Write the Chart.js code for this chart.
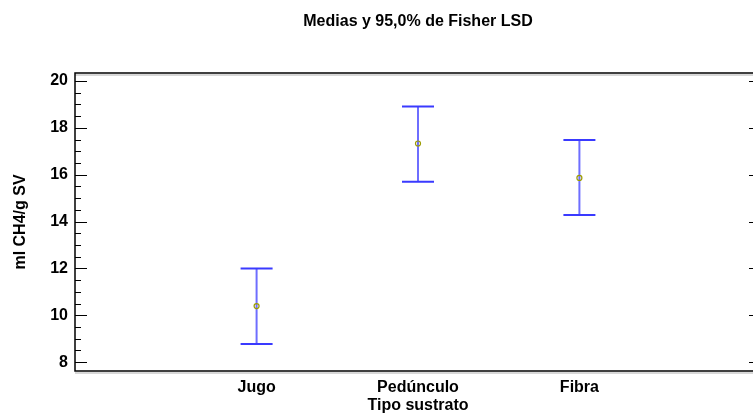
<!DOCTYPE html>
<html>
<head>
<meta charset="utf-8">
<script src="https://cdn.jsdelivr.net/npm/chart.js@4.4.0/dist/chart.umd.min.js"></script>
<style>
  body { margin: 0; background: #fff; }
  #wrap { width: 753px; height: 415px; overflow: hidden; }
</style>
</head>
<body>
<div id="wrap"><canvas id="lsd" width="837" height="415"></canvas></div>
<script>
const chartTitle = 'Medias y 95,0% de Fisher LSD'
const categories = ['Jugo', 'Pedúnculo', 'Fibra']
const means = [10.39, 17.33, 15.86]
const lower = [8.77, 15.70, 14.28]
const upper = [11.99, 18.91, 17.48]
const yTicks = [8, 10, 12, 14, 16, 18, 20]
const yMinorStep = 0.5

const font = { family: "'Liberation Sans', Arial, sans-serif", size: 16, weight: 'bold' }

// intervals drawn under the mean markers
const errorBars = {
  id: 'errorBars',
  beforeDatasetsDraw(chart) {
    const ctx = chart.ctx
    const x = chart.scales.x
    const y = chart.scales.y
    ctx.save()
    categories.forEach((c, i) => {
      const px = x.getPixelForValue(i + 1)
      const lo = y.getPixelForValue(lower[i])
      const hi = y.getPixelForValue(upper[i])
      ctx.strokeStyle = 'rgba(110,110,255,1)'
      ctx.lineWidth = 2
      ctx.beginPath()
      ctx.moveTo(px, hi)
      ctx.lineTo(px, lo)
      ctx.stroke()
      ctx.strokeStyle = '#3a3aff'
      ctx.beginPath()
      ctx.moveTo(px - 16, hi)
      ctx.lineTo(px + 16, hi)
      ctx.moveTo(px - 16, lo)
      ctx.lineTo(px + 16, lo)
      ctx.stroke()
    })
    ctx.restore()
  }
}

// box, inward ticks and a title centred over the plot box
const frame = {
  id: 'frame',
  afterDraw(chart) {
    const ctx = chart.ctx
    const a = chart.chartArea
    const y = chart.scales.y
    ctx.save()
    ctx.strokeStyle = '#b0b0b0'
    ctx.lineWidth = 1
    ctx.beginPath()
    ctx.moveTo(a.left, a.top + 2)
    ctx.lineTo(a.right, a.top + 2)
    ctx.moveTo(a.left, a.bottom + 2)
    ctx.lineTo(a.right, a.bottom + 2)
    ctx.stroke()
    ctx.strokeStyle = '#000'
    ctx.lineWidth = 1.5
    ctx.strokeRect(a.left, a.top, a.right - a.left, a.bottom - a.top)
    ctx.lineWidth = 1.2
    ctx.beginPath()
    for (let v = yTicks[0]; v <= yTicks[yTicks.length - 1]; v += yMinorStep) {
      const py = Math.round(y.getPixelForValue(v)) + 0.5
      const major = yTicks.includes(v)
      ctx.moveTo(a.left, py)
      ctx.lineTo(a.left + (major ? 12 : 6), py)
      if (major) {
        ctx.moveTo(a.right, py)
        ctx.lineTo(a.right - 12, py)
      }
    }
    ctx.stroke()
    ctx.fillStyle = '#000'
    ctx.font = "bold 16px 'Liberation Sans', Arial, sans-serif"
    ctx.textAlign = 'center'
    ctx.textBaseline = 'middle'
    ctx.fillText(chartTitle, (a.left + a.right) / 2, 22)
    ctx.restore()
  }
}

new Chart(document.getElementById('lsd'), {
  type: 'scatter',
  data: {
    datasets: [{
      data: means.map((m, i) => ({ x: i + 1, y: m })),
      pointStyle: 'circle',
      pointRadius: 2.5,
      pointBorderWidth: 1.2,
      pointBorderColor: '#9c9c00',
      pointBackgroundColor: 'rgba(0,0,0,0)'
    }]
  },
  options: {
    responsive: false,
    animation: false,
    layout: { padding: { left: 0, right: 76, top: 73, bottom: 0 } },
    plugins: {
      legend: { display: false },
      tooltip: { enabled: false },
      title: { display: false }
    },
    scales: {
      x: {
        type: 'linear',
        min: -0.125,
        max: 4.125,
        afterBuildTicks: (s) => { s.ticks = categories.map((c, i) => ({ value: i + 1 })) },
        afterFit: (s) => { s.height = 44 },
        ticks: {
          color: '#000',
          font: font,
          padding: 7,
          maxRotation: 0,
          autoSkip: false,
          callback: (v) => categories[v - 1]
        },
        grid: { display: false, drawTicks: false },
        border: { display: false },
        title: { display: true, text: 'Tipo sustrato', color: '#000', font: font, padding: { top: 0, bottom: 0 } }
      },
      y: {
        min: 7.62,
        max: 20.34,
        afterBuildTicks: (s) => { s.ticks = yTicks.map(v => ({ value: v })) },
        afterFit: (s) => { s.width = 75 },
        ticks: { color: '#000', font: font, padding: 7 },
        grid: { display: false, drawTicks: false },
        border: { display: false },
        title: { display: true, text: 'ml CH4/g SV', color: '#000', font: font, padding: { top: 11, bottom: 0 } }
      }
    }
  },
  plugins: [errorBars, frame]
})
</script>
</body>
</html>
